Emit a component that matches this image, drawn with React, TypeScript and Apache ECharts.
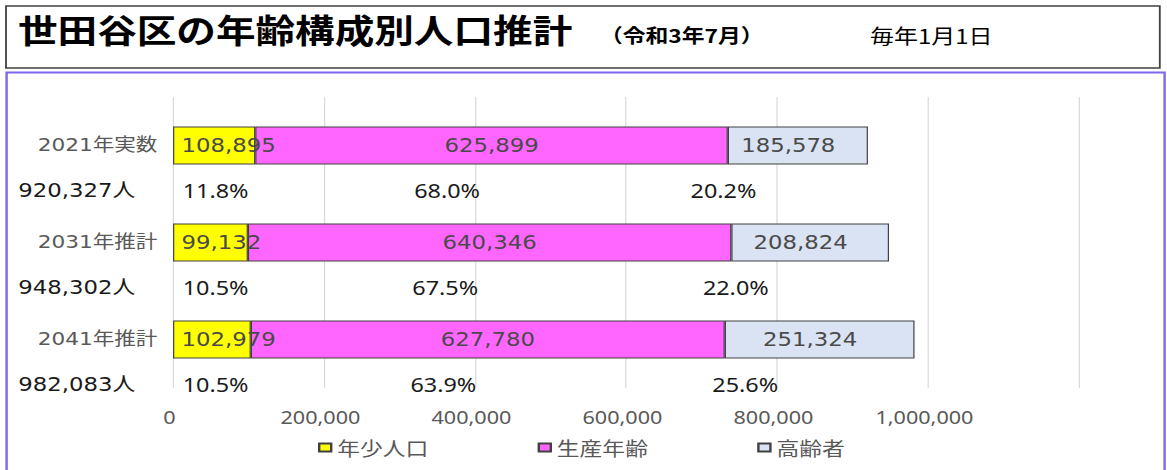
import React, { useEffect, useRef } from "react";
import * as echarts from "echarts";

// ---- data ----
const categories = ["2021年実数", "2031年推計", "2041年推計"];
const seriesNames = ["年少人口", "生産年齢", "高齢者"];
const youngPop = [108895, 99132, 102979];
const workingPop = [625899, 640346, 627780];
const elderlyPop = [185578, 208824, 251324];
const totalPop = [920327, 948302, 982083];
const youngPct = [11.8, 10.5, 10.5];
const workingPct = [68.0, 67.5, 63.9];
const elderlyPct = [20.2, 22.0, 25.6];
const axisMin = 0;
const axisMax = 1200000;
const axisStep = 200000;

const titleText = "世田谷区の年齢構成別人口推計";
const subTitleText = "（令和3年7月）";
const noteText = "毎年1月1日";

const S = 1.2; // horizontal stretch of the reference picture
const W = 972;
const H = 470;

const fmt = (v: number) => v.toLocaleString("en-US");
const pct = (v: number) => v.toFixed(1) + "%";

const WIDE = "'DejaVu Sans', 'Noto Sans CJK JP', sans-serif";
const SANS = "'Noto Sans', 'Noto Sans CJK JP', sans-serif";
const CJK = "'Noto Sans CJK JP', sans-serif";

export default function App() {
  const ref = useRef<HTMLDivElement>(null);
  useEffect(() => {
    if (!ref.current) return;
    const chart = echarts.init(ref.current, null, { renderer: "svg" });
    const barBorder = { borderColor: "#404040", borderWidth: 1 };
    const barLabel = {
      show: true,
      color: "#4a4a4a",
      fontSize: 19,
      fontFamily: WIDE,
      formatter: (p: any) => fmt(p.value),
    };
    const option: any = {
      animation: false,
      backgroundColor: "#ffffff",
      graphic: [
        {
          type: "rect",
          shape: { x: 5, y: 6, width: 961.5, height: 62 },
          style: { fill: "none", stroke: "#404040", lineWidth: 1.5 },
        },
        {
          type: "rect",
          shape: { x: 5.5, y: 72.5, width: 965, height: 430 },
          style: { fill: "none", stroke: "#7B68EE", lineWidth: 2 },
        },
        {
          type: "text",
          x: 15,
          y: 29,
          style: {
            text: titleText,
            fontSize: 33,
            fontWeight: "bold",
            fontFamily: CJK,
            fill: "#000",
            verticalAlign: "middle",
          },
        },
        {
          type: "text",
          x: 500,
          y: 35,
          style: {
            text: subTitleText,
            fontSize: 19,
            fontWeight: "bold",
            fontFamily: CJK,
            fill: "#000",
            verticalAlign: "middle",
          },
        },
        {
          type: "text",
          x: 725,
          y: 35,
          style: {
            text: noteText,
            fontSize: 20,
            fontFamily: CJK,
            fill: "#000",
            verticalAlign: "middle",
          },
        },
      ],
      legend: {
        data: seriesNames,
        left: 260,
        top: 433,
        itemWidth: 10,
        itemHeight: 8,
        itemGap: 91,
        icon: "rect",
        textStyle: { fontSize: 19, fontFamily: CJK, color: "#595959" },
      },
      grid: { left: 144.2, right: W - 899.2, top: 97, height: 291, containLabel: false },
      xAxis: {
        type: "value",
        min: axisMin,
        max: axisMax,
        interval: axisStep,
        axisLine: { show: false },
        axisTick: { show: false },
        splitLine: { show: true, lineStyle: { color: "#d9d9d9", width: 1 } },
        axisLabel: {
          showMaxLabel: false,
          margin: 20,
          fontSize: 18,
          fontFamily: SANS,
          color: "#595959",
          padding: [0, 6, 0, 0],
          formatter: (v: number) => fmt(v),
        },
      },
      yAxis: {
        type: "category",
        data: categories,
        inverse: true,
        axisLine: { show: false },
        axisTick: { show: false },
        splitLine: { show: false },
        axisLabel: { margin: 13, fontSize: 18, fontFamily: WIDE, color: "#595959" },
      },
      series: [
        {
          name: seriesNames[0],
          type: "bar",
          stack: "total",
          barWidth: 38,
          z: 3,
          data: youngPop,
          itemStyle: { color: "#FFFF00", ...barBorder },
          label: { ...barLabel, position: "insideLeft", distance: 7 },
        },
        {
          name: seriesNames[1],
          type: "bar",
          stack: "total",
          barWidth: 38,
          data: workingPop,
          itemStyle: { color: "#FF66FF", ...barBorder },
          label: { ...barLabel, position: "inside" },
        },
        {
          name: seriesNames[2],
          type: "bar",
          stack: "total",
          barWidth: 38,
          data: elderlyPop,
          itemStyle: { color: "#DAE3F3", ...barBorder },
          label: { ...barLabel, position: "inside", offset: [-8, 0] },
        },
        {
          name: "notes",
          type: "custom",
          clip: false,
          silent: true,
          data: categories.map((c, i) => [0, i]),
          encode: { x: 0, y: 1 },
          renderItem: (params: any, api: any) => {
            const i = params.dataIndex;
            const base = api.coord([0, i]);
            const y = base[1] + 45;
            const workMid = api.coord([youngPop[i] + workingPop[i] / 2, i])[0];
            const eldMid = api.coord([youngPop[i] + workingPop[i] + elderlyPop[i] / 2, i])[0];
            const t = (text: string, x: number, align: string, family: string, size: number) => ({
              type: "text",
              x,
              y,
              style: {
                text,
                fontSize: size,
                fontFamily: family,
                fill: "#1a1a1a",
                align,
                verticalAlign: "middle",
              },
            });
            return {
              type: "group",
              children: [
                t(fmt(totalPop[i]) + "人", base[0] - 129, "left", WIDE, 19),
                t(pct(youngPct[i]), base[0] + 8, "left", SANS, 19.5),
                t(pct(workingPct[i]), workMid - 37, "center", SANS, 19.5),
                t(pct(elderlyPct[i]), eldMid - 62, "center", SANS, 19.5),
              ],
            };
          },
        },
      ],
    };
    chart.setOption(option);
    return () => chart.dispose();
  }, []);
  return (
    <div
      style={{
        position: "fixed",
        left: 0,
        top: 0,
        width: 1167,
        height: H,
        overflow: "hidden",
        background: "#fff",
      }}
    >
      <div
        ref={ref}
        style={{ width: W, height: H, transform: `scaleX(${S})`, transformOrigin: "0 0" }}
      />
    </div>
  );
}
